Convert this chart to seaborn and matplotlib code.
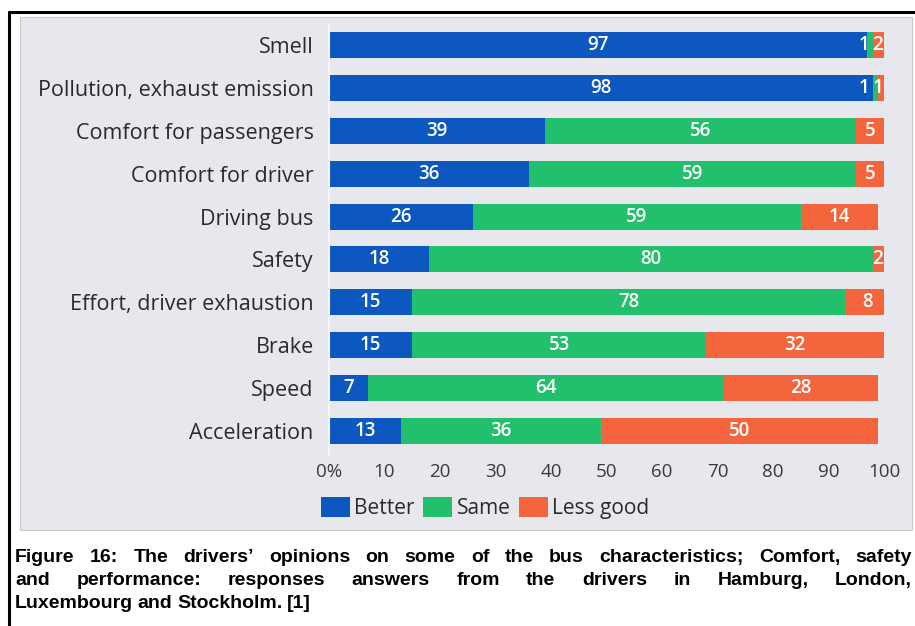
import matplotlib
matplotlib.use("Agg")
import matplotlib.pyplot as plt
import numpy as np
import pandas as pd
import seaborn as sns
from matplotlib.patches import Rectangle, Patch
from matplotlib.lines import Line2D

# Survey answers (percent of drivers)
categories = ["Smell", "Pollution, exhaust emission", "Comfort for passengers",
              "Comfort for driver", "Driving bus", "Safety",
              "Effort, driver exhaustion", "Brake", "Speed", "Acceleration"]
better = [97, 98, 39, 36, 26, 18, 15, 15, 7, 13]
same = [1, 1, 56, 59, 59, 80, 78, 53, 64, 36]
less_good = [2, 1, 5, 5, 14, 2, 8, 32, 28, 50]
series_names = ["Better", "Same", "Less good"]
tick_values = [0, 10, 20, 30, 40, 50, 60, 70, 80, 90, 100]
tick_labels = ["0%", "10", "20", "30", "40", "50", "60", "70", "80", "90", "100"]
caption_lines = [
    "Figure 16: The drivers\u2019 opinions on some of the bus characteristics; Comfort, safety",
    "and performance: responses answers from the drivers in Hamburg, London,",
    "Luxembourg and Stockholm. [1]",
]

BLUE = "#0d58c0"
GREEN = "#22bf6c"
ORANGE = "#f4653e"
PANEL = "#e7e8ee"
CHART_FONT = ["Open Sans", "DejaVu Sans"]

sns.set_theme(style="white")
plt.rcParams["font.family"] = CHART_FONT

W, H = 915, 626
fig = plt.figure(figsize=(W / 100, H / 100), dpi=100)
fig.patch.set_facecolor("white")


def fx(x):
    return x / W


def fy(y):
    return 1 - y / H


# grey panel behind the chart and the page frame
fig.add_artist(Rectangle((fx(20), fy(530)), fx(912) - fx(20), fy(17) - fy(530),
                         transform=fig.transFigure, facecolor=PANEL,
                         edgecolor="#c9cad0", linewidth=0.8, zorder=0))
fig.add_artist(Line2D([fx(9), fx(9)], [0, fy(12)], transform=fig.transFigure,
                      color="black", linewidth=2.2))
fig.add_artist(Line2D([fx(9), 1], [fy(12), fy(12)], transform=fig.transFigure,
                      color="black", linewidth=2.2))

ax = fig.add_axes([fx(329), fy(455), fx(884) - fx(329), fy(24) - fy(455)])
ax.patch.set_alpha(0)

df = pd.DataFrame({"category": categories, "better": better,
                   "same": same, "less_good": less_good})
df["to_same"] = df["better"] + df["same"]
df["total"] = df["to_same"] + df["less_good"]

# stacked bars: draw cumulative totals from the back to the front
for col, color in [("total", ORANGE), ("to_same", GREEN), ("better", BLUE)]:
    sns.barplot(data=df, x=col, y="category", order=categories, orient="h",
                color=color, saturation=1, width=0.61, errorbar=None, ax=ax,
                linewidth=0)

# value labels in the middle of each segment; labels of very thin
# segments are pushed left so they stay readable
for i, row in df.iterrows():
    starts = [0, row["better"], row["to_same"]]
    vals = [row["better"], row["same"], row["less_good"]]
    centers = [s + v / 2 for s, v in zip(starts, vals)]
    limit = 98.9
    for k in range(2, -1, -1):
        if vals[k] < 4:
            centers[k] = min(centers[k], limit)
            limit = centers[k] - 2.6
        else:
            limit = 1e9
    for c, v in zip(centers, vals):
        ax.text(c, i, str(v), ha="center", va="center", color="white",
                fontsize=13.5, fontweight="semibold")

ax.set_xlim(0, 100)
ax.set_ylim(9.57, -0.5)
ax.set_xticks(tick_values)
ax.set_xticklabels(tick_labels)
ax.set_xlabel("")
ax.set_ylabel("")
ax.tick_params(axis="x", length=0, pad=6, labelsize=13.5, labelcolor="#3a3a3a")
ax.tick_params(axis="y", length=0, pad=11, labelsize=15.5, labelcolor="#2a2a2a")
for side in ["top", "right", "bottom"]:
    ax.spines[side].set_visible(False)
ax.spines["left"].set_color("#f6f6f8")
ax.spines["left"].set_linewidth(1.5)

handles = [Patch(facecolor=c, edgecolor="none") for c in (BLUE, GREEN, ORANGE)]
fig.legend(handles, series_names, loc="center left", ncol=3,
           bbox_to_anchor=(fx(321), fy(508)), bbox_transform=fig.transFigure,
           frameon=False, fontsize=15, handlelength=1.4, handleheight=1.1,
           handletextpad=0.2, columnspacing=0.4, borderpad=0, borderaxespad=0,
           labelcolor="#2a2a2a")

# justified caption under the panel
renderer = fig.canvas.get_renderer()
cap_kw = dict(fontsize=14, fontweight="bold", family=["Liberation Sans", "DejaVu Sans"],
              color="black", va="baseline", ha="left")


def caption_line(text, y, justify):
    words = text.split()
    arts = [fig.text(0, fy(y), w, **cap_kw) for w in words]
    widths = [a.get_window_extent(renderer).width for a in arts]
    x0, x1 = 15, 912
    if justify:
        gap = (x1 - x0 - sum(widths)) / (len(words) - 1)
    else:
        gap = 4.5
    x = x0
    for a, w in zip(arts, widths):
        a.set_x(fx(x))
        x += w + gap


caption_line(caption_lines[0], 562, True)
caption_line(caption_lines[1], 585, True)
caption_line(caption_lines[2], 608, False)

fig.savefig("out.png", dpi=100)
